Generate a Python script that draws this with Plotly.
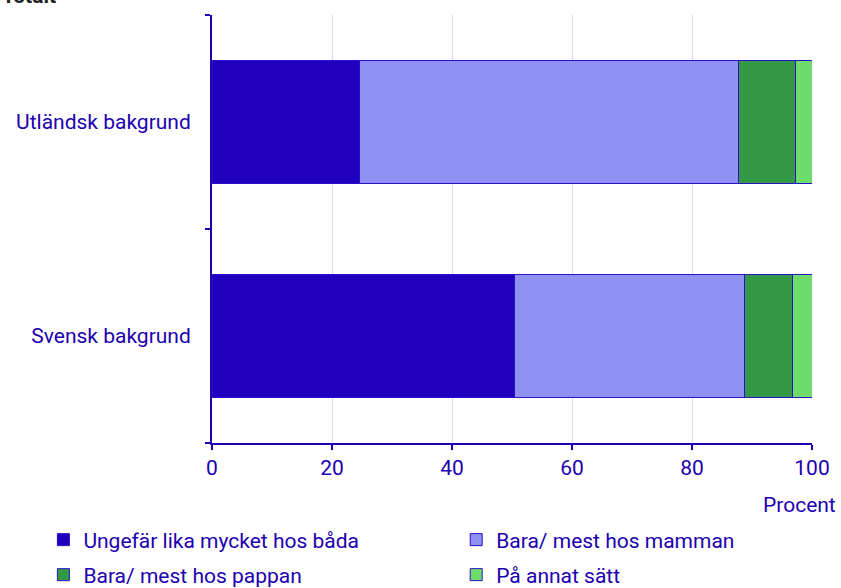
import plotly.graph_objects as go

categories = ["Svensk bakgrund", "Utländsk bakgrund"]
series_names = ["Ungefär lika mycket hos båda", "Bara/ mest hos mamman",
                "Bara/ mest hos pappan", "På annat sätt"]
values = {
    "Ungefär lika mycket hos båda": [50.4, 24.5],
    "Bara/ mest hos mamman": [38.3, 63.3],
    "Bara/ mest hos pappan": [8.1, 9.5],
    "På annat sätt": [3.2, 2.7],
}
colors = ["#2000BE", "#8F92F3", "#339944", "#6EDC6A"]
x_ticks = [0, 20, 40, 60, 80, 100]

TXT = "#2000B0"
FONT = "Roboto"
FS = 21

legend_ids = ["legend", "legend2", "legend3", "legend4"]
legend_pos = [(-0.281, -0.2266), (0.407, -0.2266), (-0.281, -0.3084), (0.407, -0.3084)]

fig = go.Figure()
for name, col, lid in zip(series_names, colors, legend_ids):
    fig.add_trace(go.Bar(
        y=categories, x=values[name], name=name, orientation="h",
        marker=dict(color=col, line=dict(color="#2A10C8", width=1)),
        width=0.575, legend=lid,
    ))

legends = {}
for lid, (lx, ly) in zip(legend_ids, legend_pos):
    legends[lid] = dict(orientation="h", x=lx, xanchor="left", y=ly, yanchor="middle",
                        font=dict(family=FONT, size=FS, color=TXT), itemclick=False,
                        bgcolor="rgba(0,0,0,0)", borderwidth=0)

fig.update_layout(
    barmode="stack",
    width=841, height=588,
    margin=dict(l=212, r=29, t=15, b=145, autoexpand=False),
    plot_bgcolor="white", paper_bgcolor="white",
    font=dict(family=FONT, size=FS, color=TXT),
    showlegend=True,
    xaxis=dict(range=[0, 100], tickvals=x_ticks, showgrid=True, gridcolor="#D8D8F0",
               gridwidth=1, showline=True, linecolor=TXT, linewidth=2,
               ticks="outside", ticklen=5, tickcolor=TXT, tickwidth=2,
               tickfont=dict(size=FS, color=TXT), zeroline=False, fixedrange=True,
               automargin=False),
    yaxis=dict(type="category", categoryorder="array", categoryarray=categories,
               showline=True, linecolor=TXT, linewidth=2, tickson="boundaries",
               ticks="outside", ticklen=5, tickcolor=TXT, tickwidth=2,
               showgrid=False, tickfont=dict(size=FS, color=TXT), ticklabelstandoff=15,
               automargin=False),
    annotations=[
        dict(text="Procent", xref="paper", yref="paper", x=1.043, y=-0.145,
             xanchor="right", yanchor="middle", showarrow=False,
             font=dict(family=FONT, size=FS, color=TXT)),
        dict(text="<b>Totalt</b>", xref="paper", yref="paper", x=-0.353, y=1.012,
             xanchor="left", yanchor="bottom", showarrow=False,
             font=dict(family=FONT, size=FS, color="#222222")),
    ],
    **legends,
)

fig.write_html("out.html", config={"displayModeBar": False},
               post_script="document.body.style.margin='0';document.body.style.overflow='hidden';")
